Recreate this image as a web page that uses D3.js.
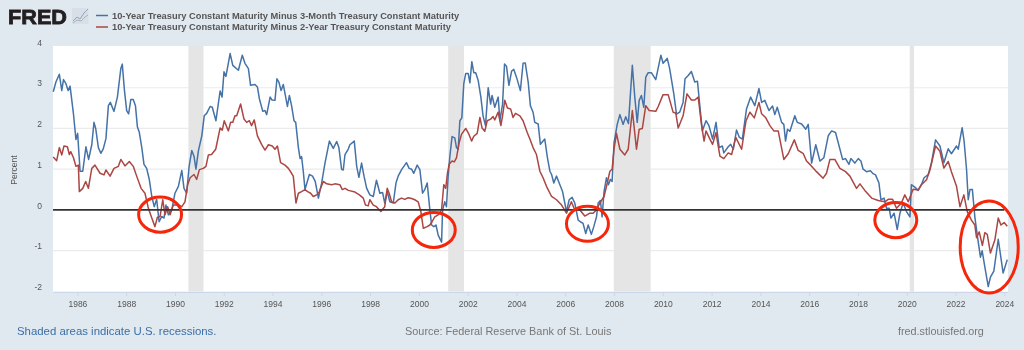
<!DOCTYPE html>
<html><head><meta charset="utf-8">
<script src="https://cdn.jsdelivr.net/npm/d3@7"></script>
<style>html,body{margin:0;padding:0;background:#e1e9f0;overflow:hidden}svg{display:block;filter:blur(.4px)}text{font-family:"Liberation Sans",Arial,sans-serif}</style>
</head><body><svg id="c" width="1024" height="350"></svg>
<script>
const seriesNames = ["10-Year Treasury Constant Maturity Minus 3-Month Treasury Constant Maturity","10-Year Treasury Constant Maturity Minus 2-Year Treasury Constant Maturity"];
const seriesColors = ["#4572a7","#aa4643"];
const yearTicks = [1986,1988,1990,1992,1994,1996,1998,2000,2002,2004,2006,2008,2010,2012,2014,2016,2018,2020,2022,2024];
const percentTicks = [-2,-1,0,1,2,3,4];
const recessions = [[1990.55,1991.17],[2001.2,2001.85],[2007.99,2009.5],[2020.12,2020.3]];
// year, value, x radius in years, y radius in percent
const circledInversions = [[1989.39,-.115,.88,.43],[2000.61,-.49,.88,.43],[2006.91,-.34,.86,.43],[2019.55,-.25,.86,.43],[2023.38,-.91,1.19,1.13]];
const spread3m = [[1985.01,2.9],[1985.12,3.14],[1985.26,3.33],[1985.36,2.93],[1985.43,3.2],[1985.53,3.1],[1985.62,2.93],[1985.70,3.04],[1985.84,2.35],[1985.94,1.73],[1986.01,1.88],[1986.11,.95],[1986.22,.95],[1986.35,1.55],[1986.46,1.24],[1986.59,1.6],[1986.68,2.15],[1986.75,2.0],[1986.86,1.53],[1986.96,1.39],[1987.06,1.5],[1987.17,1.75],[1987.27,2.56],[1987.35,2.64],[1987.50,2.42],[1987.64,2.77],[1987.78,3.47],[1987.84,3.58],[1987.93,2.93],[1988.02,2.44],[1988.10,2.36],[1988.19,2.71],[1988.29,2.71],[1988.38,2.56],[1988.46,2.04],[1988.54,1.9],[1988.64,1.53],[1988.73,1.12],[1988.84,1.02],[1988.95,.74],[1989.05,.33],[1989.15,.08],[1989.25,.26],[1989.35,-.29],[1989.46,-.16],[1989.55,-.2],[1989.63,.12],[1989.73,-.12],[1989.87,0],[1990.00,.41],[1990.14,.58],[1990.28,.97],[1990.37,.53],[1990.48,.41],[1990.58,1.07],[1990.69,1.46],[1990.78,1.32],[1990.86,1.0],[1990.96,1.45],[1991.10,1.82],[1991.20,2.31],[1991.30,2.37],[1991.44,2.54],[1991.53,2.52],[1991.68,2.19],[1991.85,2.92],[1991.93,2.77],[1992.01,3.39],[1992.09,3.28],[1992.26,3.84],[1992.37,3.55],[1992.60,3.43],[1992.76,3.8],[1992.87,3.6],[1993.01,3.47],[1993.10,3.06],[1993.28,3.08],[1993.38,3.02],[1993.46,2.73],[1993.60,2.42],[1993.69,2.44],[1993.76,2.34],[1993.90,2.77],[1993.98,2.7],[1994.10,2.69],[1994.18,3.22],[1994.26,3.14],[1994.35,2.93],[1994.44,3.08],[1994.61,2.54],[1994.69,2.81],[1994.78,2.56],[1994.88,2.19],[1994.95,2.15],[1995.06,1.53],[1995.13,1.26],[1995.19,1.31],[1995.26,.95],[1995.33,.5],[1995.51,.87],[1995.64,.83],[1995.75,.7],[1995.88,.29],[1996.01,.65],[1996.15,1.15],[1996.22,1.36],[1996.33,1.69],[1996.49,1.51],[1996.63,1.68],[1996.72,1.53],[1996.83,1.0],[1996.90,.98],[1996.97,1.36],[1997.11,1.5],[1997.17,1.6],[1997.35,1.69],[1997.45,1.07],[1997.54,.8],[1997.65,1.15],[1997.75,.83],[1997.86,.53],[1997.99,.37],[1998.13,.33],[1998.26,.73],[1998.40,.41],[1998.51,.43],[1998.60,.17],[1998.70,.45],[1998.81,.2],[1998.95,.17],[1999.06,.66],[1999.15,.83],[1999.29,.99],[1999.49,1.16],[1999.60,1.02],[1999.70,1.0],[1999.79,.9],[1999.93,1.1],[2000.04,.99],[2000.15,.41],[2000.24,.5],[2000.34,.66],[2000.45,0],[2000.52,-.37],[2000.61,-.41],[2000.70,-.37],[2000.79,-.62],[2000.93,-.79],[2000.97,0],[2001.06,.2],[2001.13,.08],[2001.20,.83],[2001.27,1.32],[2001.36,1.8],[2001.47,1.77],[2001.54,1.53],[2001.61,1.49],[2001.68,2.19],[2001.76,2.26],[2001.84,3.1],[2001.92,3.35],[2002.02,3.35],[2002.09,3.12],[2002.17,3.64],[2002.25,3.37],[2002.33,3.37],[2002.43,3.18],[2002.54,2.77],[2002.63,2.31],[2002.73,2.07],[2002.84,3],[2002.94,2.6],[2003.00,2.81],[2003.11,2.52],[2003.25,2.77],[2003.32,2.19],[2003.43,2.6],[2003.51,3.58],[2003.59,3.53],[2003.69,3.06],[2003.80,3.41],[2003.89,3.45],[2004.00,3.26],[2004.16,2.93],[2004.27,3.6],[2004.36,3.61],[2004.48,3.14],[2004.57,2.56],[2004.68,2.4],[2004.75,2.15],[2004.89,2.11],[2004.98,1.61],[2005.16,1.74],[2005.27,1.28],[2005.37,.95],[2005.44,.87],[2005.53,.66],[2005.64,.83],[2005.78,.62],[2005.89,.45],[2005.98,.17],[2006.05,-.04],[2006.16,.25],[2006.28,.31],[2006.39,.17],[2006.53,-.25],[2006.62,-.29],[2006.73,-.33],[2006.84,-.58],[2006.94,-.37],[2007.07,-.6],[2007.17,-.41],[2007.28,-.17],[2007.35,.17],[2007.44,.23],[2007.51,-.17],[2007.59,.45],[2007.69,.79],[2007.77,.62],[2007.85,.75],[2007.92,.7],[2008.00,1.65],[2008.13,2.1],[2008.24,2.34],[2008.37,2.1],[2008.48,2.29],[2008.59,2.12],[2008.75,3.55],[2008.85,2.77],[2008.95,2.15],[2009.03,2.69],[2009.12,2.81],[2009.22,2.52],[2009.30,3.26],[2009.40,3.37],[2009.53,3.37],[2009.71,3.2],[2009.92,3.8],[2010.01,3.6],[2010.18,3.72],[2010.28,3.47],[2010.45,2.85],[2010.56,2.35],[2010.69,2.4],[2010.83,2.64],[2010.91,3.22],[2011.04,3.3],[2011.17,3.4],[2011.31,3.14],[2011.42,3.16],[2011.51,2.6],[2011.62,1.94],[2011.77,2.19],[2011.89,2.07],[2012.04,1.74],[2012.18,2.15],[2012.31,1.53],[2012.44,1.57],[2012.50,1.4],[2012.68,1.55],[2012.78,1.61],[2012.89,1.49],[2013.02,1.96],[2013.13,1.79],[2013.26,1.74],[2013.43,2.48],[2013.60,2.77],[2013.77,2.56],[2013.94,2.98],[2014.05,2.64],[2014.18,2.69],[2014.35,2.44],[2014.50,2.55],[2014.59,2.34],[2014.69,2.52],[2014.87,2.15],[2014.96,2.1],[2015.03,1.69],[2015.11,1.98],[2015.21,1.93],[2015.41,2.31],[2015.51,2.15],[2015.69,2.11],[2015.86,1.98],[2015.96,2.1],[2016.10,1.15],[2016.27,1.6],[2016.44,1.2],[2016.60,1.28],[2016.78,1.82],[2016.92,1.94],[2017.08,1.9],[2017.37,1.24],[2017.49,1.26],[2017.63,1.12],[2017.71,1.26],[2017.87,1.15],[2018.01,1.26],[2018.12,1.2],[2018.21,1.0],[2018.35,.94],[2018.51,.96],[2018.62,.89],[2018.72,.86],[2018.86,.66],[2018.94,.25],[2019.07,.29],[2019.17,.04],[2019.28,.04],[2019.35,-.2],[2019.48,-.08],[2019.61,-.48],[2019.72,-.08],[2019.85,.17],[2019.99,-.04],[2020.13,-.17],[2020.19,.62],[2020.33,.56],[2020.47,.48],[2020.60,.62],[2020.71,.79],[2020.88,.87],[2021.01,1.15],[2021.18,1.72],[2021.36,1.57],[2021.52,1.16],[2021.70,1.5],[2021.83,1.38],[2022.04,1.57],[2022.11,1.49],[2022.27,2.02],[2022.35,1.69],[2022.45,1.0],[2022.52,.25],[2022.59,.5],[2022.69,.5],[2022.79,-.17],[2022.89,-.62],[2023.02,-1.16],[2023.09,-1],[2023.20,-1.4],[2023.34,-1.88],[2023.43,-1.65],[2023.57,-1.5],[2023.75,-.72],[2023.95,-1.55],[2024.12,-1.22]];
const spread2y = [[1985.01,1.3],[1985.15,1.21],[1985.26,1.53],[1985.36,1.35],[1985.45,1.57],[1985.59,1.55],[1985.67,1.36],[1985.73,1.43],[1985.84,1.28],[1985.94,1.07],[1986.04,1.1],[1986.08,.45],[1986.22,.53],[1986.34,.7],[1986.45,.53],[1986.59,1.02],[1986.72,1.1],[1986.93,.9],[1987.09,.86],[1987.17,.98],[1987.34,.83],[1987.50,1.02],[1987.68,1.07],[1987.78,1.24],[1987.95,1.08],[1988.13,1.19],[1988.29,1.07],[1988.43,.83],[1988.61,.53],[1988.77,.41],[1988.91,.04],[1989.05,-.2],[1989.18,-.41],[1989.28,-.18],[1989.39,-.16],[1989.50,.25],[1989.59,-.12],[1989.70,.08],[1989.80,-.12],[1989.93,.12],[1990.14,.12],[1990.28,.08],[1990.41,.2],[1990.52,.62],[1990.62,.79],[1990.78,.87],[1990.89,.75],[1991.00,.99],[1991.16,1.02],[1991.27,1.07],[1991.37,1.35],[1991.50,1.36],[1991.67,1.49],[1991.85,2.01],[1991.94,1.96],[1992.02,2.19],[1992.19,1.94],[1992.28,2.15],[1992.37,2.15],[1992.46,2.31],[1992.53,2.31],[1992.69,2.6],[1992.83,2.23],[1992.94,2.15],[1993.05,2.19],[1993.14,2.07],[1993.25,2.21],[1993.38,1.82],[1993.55,1.61],[1993.69,1.47],[1993.83,1.6],[1993.99,1.57],[1994.10,1.49],[1994.20,1.57],[1994.33,1.16],[1994.51,1.1],[1994.65,1.02],[1994.78,.9],[1994.85,.83],[1994.96,.17],[1995.06,.41],[1995.19,.45],[1995.33,.5],[1995.44,.45],[1995.56,.41],[1995.67,.33],[1995.81,.37],[1995.92,.45],[1996.08,.7],[1996.22,.64],[1996.42,.62],[1996.56,.64],[1996.76,.62],[1996.86,.5],[1996.97,.53],[1997.11,.48],[1997.38,.44],[1997.56,.37],[1997.72,.29],[1997.81,.12],[1997.92,.1],[1997.99,.25],[1998.13,.12],[1998.26,.08],[1998.44,-.04],[1998.60,.08],[1998.70,.53],[1998.78,.41],[1998.88,.2],[1999.02,.17],[1999.15,.25],[1999.29,.29],[1999.42,.26],[1999.56,.3],[1999.70,.28],[1999.83,.25],[1999.97,.2],[2000.08,-.04],[2000.18,-.45],[2000.34,-.41],[2000.45,-.37],[2000.54,-.29],[2000.65,-.17],[2000.79,-.12],[2000.93,0],[2001.02,.62],[2001.10,.53],[2001.17,.9],[2001.24,1.12],[2001.36,1.2],[2001.45,1.18],[2001.54,1.28],[2001.65,1.65],[2001.75,1.86],[2001.92,2],[2002.05,1.86],[2002.16,1.69],[2002.25,1.81],[2002.39,1.88],[2002.50,2.27],[2002.59,2.01],[2002.70,1.93],[2002.80,2.19],[2002.94,2.23],[2003.04,2.29],[2003.11,2.21],[2003.25,2.4],[2003.36,2.07],[2003.43,2.31],[2003.52,2.69],[2003.63,2.5],[2003.76,2.48],[2003.86,2.27],[2003.96,2.37],[2004.14,2.31],[2004.27,2.19],[2004.44,1.9],[2004.55,1.74],[2004.68,1.53],[2004.82,1.36],[2004.96,.95],[2005.09,.79],[2005.23,.58],[2005.44,.33],[2005.64,.25],[2005.85,.12],[2006.05,-.08],[2006.25,.2],[2006.39,0],[2006.60,0],[2006.80,-.15],[2007.01,-.08],[2007.14,-.08],[2007.28,0],[2007.42,.17],[2007.59,.33],[2007.69,.58],[2007.83,.95],[2007.92,1],[2008.00,1.49],[2008.10,1.88],[2008.24,1.49],[2008.44,1.35],[2008.58,1.49],[2008.75,2.44],[2008.92,1.49],[2009.03,1.98],[2009.16,2],[2009.30,2.56],[2009.44,2.44],[2009.71,2.42],[2009.81,2.54],[2010.01,2.83],[2010.22,2.83],[2010.42,2.4],[2010.53,2.38],[2010.63,2.01],[2010.83,2.31],[2010.99,2.85],[2011.17,2.7],[2011.31,2.7],[2011.45,2.77],[2011.58,2.11],[2011.69,1.69],[2011.77,1.94],[2011.93,1.74],[2012.04,1.61],[2012.18,1.9],[2012.34,1.32],[2012.50,1.26],[2012.68,1.4],[2012.82,1.36],[2012.99,1.78],[2013.23,1.49],[2013.41,2.19],[2013.57,2.4],[2013.75,2.26],[2013.94,2.64],[2014.05,2.36],[2014.21,2.27],[2014.39,2.07],[2014.55,1.94],[2014.73,1.94],[2014.96,1.24],[2015.14,1.38],[2015.39,1.72],[2015.55,1.46],[2015.76,1.38],[2015.89,1.2],[2016.06,1.1],[2016.30,.94],[2016.57,.78],[2016.71,.9],[2016.85,1.24],[2017.05,1.24],[2017.26,1.02],[2017.49,.94],[2017.67,.83],[2017.94,.53],[2018.08,.64],[2018.28,.48],[2018.56,.29],[2018.83,.23],[2019.10,.2],[2019.24,.26],[2019.42,.26],[2019.58,.04],[2019.78,.17],[2019.92,.37],[2020.06,.2],[2020.26,.51],[2020.47,.49],[2020.60,.62],[2020.81,.74],[2020.95,.98],[2021.18,1.57],[2021.36,1.44],[2021.52,1.03],[2021.70,1.19],[2021.83,.94],[2022.04,.58],[2022.18,.08],[2022.34,.37],[2022.48,-.04],[2022.65,-.25],[2022.79,-.37],[2022.86,-.68],[2022.97,-.54],[2023.10,-.87],[2023.20,-.56],[2023.30,-.6],[2023.43,-1.06],[2023.61,-.74],[2023.75,-.2],[2023.86,-.37],[2023.99,-.31],[2024.12,-.4]];

const svg = d3.select("#c");
const x = d3.scaleLinear().domain([1985,2024.15]).range([53,1008]);
const y = d3.scaleLinear().domain([-2,4]).range([291.4,47]);
const plotTop = 46;

svg.append("rect").attr("x",53).attr("y",plotTop).attr("width",955).attr("height",291.6-plotTop).attr("fill","#fff");
svg.append("g").selectAll("line").data(percentTicks.filter(d=>d>-2&&d<4)).join("line")
  .attr("x1",53).attr("x2",1008).attr("y1",d=>y(d)).attr("y2",d=>y(d)).attr("stroke","#ebebeb").attr("stroke-width",1.2);
svg.append("g").selectAll("rect").data(recessions).join("rect")
  .attr("x",d=>x(d[0])).attr("width",d=>x(d[1])-x(d[0])).attr("y",plotTop).attr("height",291.6-plotTop).attr("fill","#e5e5e5");

const xAxis = d3.axisBottom(x).tickValues(yearTicks).tickFormat(d3.format("d")).tickSize(4).tickSizeOuter(0).tickPadding(5);
const xg = svg.append("g").attr("transform","translate(0,292)").call(xAxis);
xg.select(".domain").attr("stroke","#ccd6eb");
xg.selectAll(".tick line").attr("stroke","#ccd6eb");
xg.selectAll("text").attr("fill","#555").attr("font-size",8.5).attr("font-family","Liberation Sans");

const yAxis = d3.axisLeft(y).tickValues(percentTicks).tickFormat(d=>String(d)).tickSize(0).tickPadding(0);
const yg = svg.append("g").attr("transform","translate(42,-4.5)").call(yAxis);
yg.select(".domain").remove();
yg.selectAll("text").attr("fill","#555").attr("font-size",8.5).attr("font-family","Liberation Sans");

svg.append("text").text("Percent").attr("transform","translate(17,170) rotate(-90)").attr("text-anchor","middle").attr("font-size",8.5).attr("fill","#555");

const line = d3.line().x(d=>x(d[0])).y(d=>y(d[1])).curve(d3.curveLinear);
[spread3m,spread2y].forEach((s,i)=>svg.append("path").datum(s).attr("d",line).attr("fill","none")
  .attr("stroke",seriesColors[i]).attr("stroke-width",1.5).attr("stroke-linejoin","round"));

svg.append("line").attr("x1",53).attr("x2",x(2024)).attr("y1",y(0)).attr("y2",y(0)).attr("stroke","#333").attr("stroke-width",1.8);

svg.append("g").selectAll("ellipse").data(circledInversions).join("ellipse")
  .attr("cx",d=>x(d[0])).attr("cy",d=>y(d[1]))
  .attr("rx",d=>x(d[2])-x(0)).attr("ry",d=>y(0)-y(d[3]))
  .attr("fill","none").attr("stroke","#f5260a").attr("stroke-width",3);

// FRED logo
svg.append("text").text("FRED").attr("x",8).attr("y",23.5).attr("font-size",21).attr("font-weight",700).attr("fill","#231f20").attr("stroke","#231f20").attr("stroke-width",.8).attr("textLength",59).attr("lengthAdjust","spacingAndGlyphs");
svg.append("rect").attr("x",72).attr("y",8).attr("width",16.5).attr("height",16).attr("fill","#d8dfe6");
svg.append("polyline").attr("points","73,21 77,17 80,19 84,13 88,9").attr("fill","none").attr("stroke","#8fa6c2").attr("stroke-width",1);
svg.append("polyline").attr("points","73,23 77,20 81,21 85,17 88,15").attr("fill","none").attr("stroke","#aab0b8").attr("stroke-width",1);

// legend
seriesNames.forEach((n,i)=>{
  const ly=[15.5,27][i];
  svg.append("line").attr("x1",96).attr("x2",108).attr("y1",ly).attr("y2",ly).attr("stroke",seriesColors[i]).attr("stroke-width",1.5);
  svg.append("text").text(n).attr("x",112).attr("y",ly+3.2).attr("font-size",9.3).attr("font-weight",700).attr("fill","#555");
});

// footer
svg.append("text").text("Shaded areas indicate U.S. recessions.").attr("x",17).attr("y",335).attr("font-size",11.4).attr("fill","#3a6ea5");
svg.append("text").text("Source: Federal Reserve Bank of St. Louis").attr("x",405).attr("y",335).attr("font-size",10.9).attr("fill","#777");
svg.append("text").text("fred.stlouisfed.org").attr("x",898).attr("y",335).attr("font-size",10.8).attr("fill","#777");
</script></body></html>
